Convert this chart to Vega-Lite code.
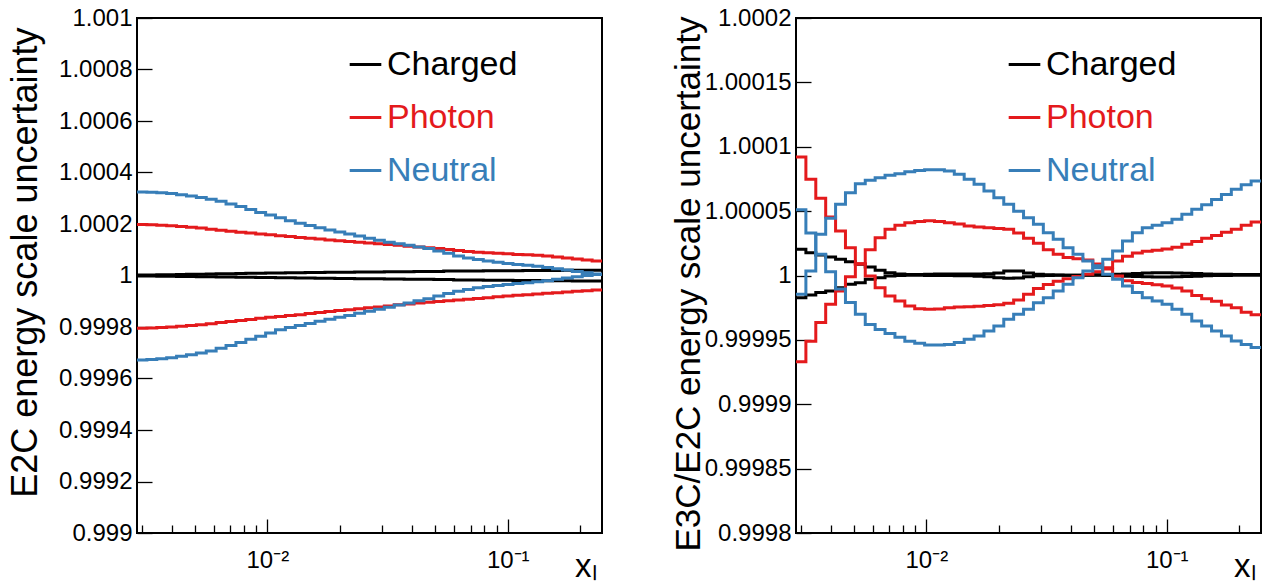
{
"$schema":"https://vega.github.io/schema/vega-lite/v6.json",
"background":"white",
"padding":{"left":6,"top":5,"right":0,"bottom":0},
"bounds":"flush",
"spacing":194,
"config":{
 "font":"Liberation Sans",
 "view":{"stroke":"black","strokeWidth":2},
 "axis":{"labelFont":"Liberation Sans","labelFontSize":24,"labelColor":"black","titleFont":"Liberation Sans","titleFontWeight":"normal","titleColor":"black","grid":false,"domain":false,"tickColor":"black","tickWidth":1.3,"labelOverlap":false}
},
"datasets":{
"L":[
{"s":"Charged","c":"a","x":0.0028708,"y":1.000002},{"s":"Charged","c":"a","x":0.0031561,"y":1.000002},{"s":"Charged","c":"a","x":0.0034698,"y":1.000003},{"s":"Charged","c":"a","x":0.0038146,"y":1.000003},{"s":"Charged","c":"a","x":0.0041937,"y":1.000004},{"s":"Charged","c":"a","x":0.0046105,"y":1.000005},{"s":"Charged","c":"a","x":0.0050687,"y":1.000005},{"s":"Charged","c":"a","x":0.0055724,"y":1.000006},{"s":"Charged","c":"a","x":0.0061262,"y":1.000007},{"s":"Charged","c":"a","x":0.006735,"y":1.000007},{"s":"Charged","c":"a","x":0.0074043,"y":1.000008},{"s":"Charged","c":"a","x":0.0081402,"y":1.000009},{"s":"Charged","c":"a","x":0.0089491,"y":1.000009},{"s":"Charged","c":"a","x":0.0098385,"y":1.00001},{"s":"Charged","c":"a","x":0.010816,"y":1.00001},{"s":"Charged","c":"a","x":0.011891,"y":1.000011},{"s":"Charged","c":"a","x":0.013073,"y":1.000011},{"s":"Charged","c":"a","x":0.014372,"y":1.000012},{"s":"Charged","c":"a","x":0.0158,"y":1.000012},{"s":"Charged","c":"a","x":0.01737,"y":1.000013},{"s":"Charged","c":"a","x":0.019096,"y":1.000013},{"s":"Charged","c":"a","x":0.020994,"y":1.000013},{"s":"Charged","c":"a","x":0.02308,"y":1.000014},{"s":"Charged","c":"a","x":0.025374,"y":1.000014},{"s":"Charged","c":"a","x":0.027896,"y":1.000014},{"s":"Charged","c":"a","x":0.030668,"y":1.000015},{"s":"Charged","c":"a","x":0.033716,"y":1.000015},{"s":"Charged","c":"a","x":0.037067,"y":1.000015},{"s":"Charged","c":"a","x":0.040751,"y":1.000016},{"s":"Charged","c":"a","x":0.044801,"y":1.000016},{"s":"Charged","c":"a","x":0.049262,"y":1.000016},{"s":"Charged","c":"a","x":0.054158,"y":1.000017},{"s":"Charged","c":"a","x":0.05954,"y":1.000017},{"s":"Charged","c":"a","x":0.065457,"y":1.000017},{"s":"Charged","c":"a","x":0.071962,"y":1.000017},{"s":"Charged","c":"a","x":0.079114,"y":1.000018},{"s":"Charged","c":"a","x":0.086977,"y":1.000018},{"s":"Charged","c":"a","x":0.095621,"y":1.000018},{"s":"Charged","c":"a","x":0.10512,"y":1.000018},{"s":"Charged","c":"a","x":0.11557,"y":1.000019},{"s":"Charged","c":"a","x":0.12706,"y":1.000019},{"s":"Charged","c":"a","x":0.13969,"y":1.000019},{"s":"Charged","c":"a","x":0.15357,"y":1.000019},{"s":"Charged","c":"a","x":0.16883,"y":1.00002},{"s":"Charged","c":"a","x":0.18561,"y":1.00002},{"s":"Charged","c":"a","x":0.20406,"y":1.00002},{"s":"Charged","c":"a","x":0.22434,"y":1.00002},{"s":"Charged","c":"a","x":0.2466,"y":1.00002},
{"s":"Charged","c":"b","x":0.0028708,"y":0.999998},{"s":"Charged","c":"b","x":0.0031561,"y":0.999998},{"s":"Charged","c":"b","x":0.0034698,"y":0.999997},{"s":"Charged","c":"b","x":0.0038146,"y":0.999997},{"s":"Charged","c":"b","x":0.0041937,"y":0.999996},{"s":"Charged","c":"b","x":0.0046105,"y":0.999996},{"s":"Charged","c":"b","x":0.0050687,"y":0.999995},{"s":"Charged","c":"b","x":0.0055724,"y":0.999995},{"s":"Charged","c":"b","x":0.0061262,"y":0.999994},{"s":"Charged","c":"b","x":0.006735,"y":0.999994},{"s":"Charged","c":"b","x":0.0074043,"y":0.999993},{"s":"Charged","c":"b","x":0.0081402,"y":0.999993},{"s":"Charged","c":"b","x":0.0089491,"y":0.999992},{"s":"Charged","c":"b","x":0.0098385,"y":0.999992},{"s":"Charged","c":"b","x":0.010816,"y":0.999991},{"s":"Charged","c":"b","x":0.011891,"y":0.999991},{"s":"Charged","c":"b","x":0.013073,"y":0.99999},{"s":"Charged","c":"b","x":0.014372,"y":0.99999},{"s":"Charged","c":"b","x":0.0158,"y":0.999989},{"s":"Charged","c":"b","x":0.01737,"y":0.999989},{"s":"Charged","c":"b","x":0.019096,"y":0.999988},{"s":"Charged","c":"b","x":0.020994,"y":0.999988},{"s":"Charged","c":"b","x":0.02308,"y":0.999987},{"s":"Charged","c":"b","x":0.025374,"y":0.999987},{"s":"Charged","c":"b","x":0.027896,"y":0.999987},{"s":"Charged","c":"b","x":0.030668,"y":0.999986},{"s":"Charged","c":"b","x":0.033716,"y":0.999986},{"s":"Charged","c":"b","x":0.037067,"y":0.999985},{"s":"Charged","c":"b","x":0.040751,"y":0.999985},{"s":"Charged","c":"b","x":0.044801,"y":0.999985},{"s":"Charged","c":"b","x":0.049262,"y":0.999984},{"s":"Charged","c":"b","x":0.054158,"y":0.999984},{"s":"Charged","c":"b","x":0.05954,"y":0.999983},{"s":"Charged","c":"b","x":0.065457,"y":0.999983},{"s":"Charged","c":"b","x":0.071962,"y":0.999983},{"s":"Charged","c":"b","x":0.079114,"y":0.999982},{"s":"Charged","c":"b","x":0.086977,"y":0.999982},{"s":"Charged","c":"b","x":0.095621,"y":0.999982},{"s":"Charged","c":"b","x":0.10512,"y":0.999981},{"s":"Charged","c":"b","x":0.11557,"y":0.999981},{"s":"Charged","c":"b","x":0.12706,"y":0.999981},{"s":"Charged","c":"b","x":0.13969,"y":0.99998},{"s":"Charged","c":"b","x":0.15357,"y":0.99998},{"s":"Charged","c":"b","x":0.16883,"y":0.99998},{"s":"Charged","c":"b","x":0.18561,"y":0.999979},{"s":"Charged","c":"b","x":0.20406,"y":0.999979},{"s":"Charged","c":"b","x":0.22434,"y":0.999979},{"s":"Charged","c":"b","x":0.2466,"y":0.999979},
{"s":"Photon","c":"a","x":0.0028708,"y":1.000198},{"s":"Photon","c":"a","x":0.0031561,"y":1.000197},{"s":"Photon","c":"a","x":0.0034698,"y":1.000195},{"s":"Photon","c":"a","x":0.0038146,"y":1.000193},{"s":"Photon","c":"a","x":0.0041937,"y":1.00019},{"s":"Photon","c":"a","x":0.0046105,"y":1.000187},{"s":"Photon","c":"a","x":0.0050687,"y":1.000184},{"s":"Photon","c":"a","x":0.0055724,"y":1.00018},{"s":"Photon","c":"a","x":0.0061262,"y":1.000176},{"s":"Photon","c":"a","x":0.006735,"y":1.000172},{"s":"Photon","c":"a","x":0.0074043,"y":1.000168},{"s":"Photon","c":"a","x":0.0081402,"y":1.000165},{"s":"Photon","c":"a","x":0.0089491,"y":1.000161},{"s":"Photon","c":"a","x":0.0098385,"y":1.000158},{"s":"Photon","c":"a","x":0.010816,"y":1.000154},{"s":"Photon","c":"a","x":0.011891,"y":1.000151},{"s":"Photon","c":"a","x":0.013073,"y":1.000148},{"s":"Photon","c":"a","x":0.014372,"y":1.000145},{"s":"Photon","c":"a","x":0.0158,"y":1.000142},{"s":"Photon","c":"a","x":0.01737,"y":1.000138},{"s":"Photon","c":"a","x":0.019096,"y":1.000135},{"s":"Photon","c":"a","x":0.020994,"y":1.000132},{"s":"Photon","c":"a","x":0.02308,"y":1.000129},{"s":"Photon","c":"a","x":0.025374,"y":1.000126},{"s":"Photon","c":"a","x":0.027896,"y":1.000123},{"s":"Photon","c":"a","x":0.030668,"y":1.00012},{"s":"Photon","c":"a","x":0.033716,"y":1.000117},{"s":"Photon","c":"a","x":0.037067,"y":1.000114},{"s":"Photon","c":"a","x":0.040751,"y":1.000111},{"s":"Photon","c":"a","x":0.044801,"y":1.000108},{"s":"Photon","c":"a","x":0.049262,"y":1.000105},{"s":"Photon","c":"a","x":0.054158,"y":1.000101},{"s":"Photon","c":"a","x":0.05954,"y":1.000097},{"s":"Photon","c":"a","x":0.065457,"y":1.000093},{"s":"Photon","c":"a","x":0.071962,"y":1.00009},{"s":"Photon","c":"a","x":0.079114,"y":1.000088},{"s":"Photon","c":"a","x":0.086977,"y":1.000086},{"s":"Photon","c":"a","x":0.095621,"y":1.000084},{"s":"Photon","c":"a","x":0.10512,"y":1.000082},{"s":"Photon","c":"a","x":0.11557,"y":1.000081},{"s":"Photon","c":"a","x":0.12706,"y":1.000079},{"s":"Photon","c":"a","x":0.13969,"y":1.000076},{"s":"Photon","c":"a","x":0.15357,"y":1.000072},{"s":"Photon","c":"a","x":0.16883,"y":1.000068},{"s":"Photon","c":"a","x":0.18561,"y":1.000064},{"s":"Photon","c":"a","x":0.20406,"y":1.00006},{"s":"Photon","c":"a","x":0.22434,"y":1.000056},{"s":"Photon","c":"a","x":0.2466,"y":1.000056},
{"s":"Photon","c":"b","x":0.0028708,"y":0.999795},{"s":"Photon","c":"b","x":0.0031561,"y":0.999796},{"s":"Photon","c":"b","x":0.0034698,"y":0.999798},{"s":"Photon","c":"b","x":0.0038146,"y":0.9998},{"s":"Photon","c":"b","x":0.0041937,"y":0.999803},{"s":"Photon","c":"b","x":0.0046105,"y":0.999806},{"s":"Photon","c":"b","x":0.0050687,"y":0.999809},{"s":"Photon","c":"b","x":0.0055724,"y":0.999813},{"s":"Photon","c":"b","x":0.0061262,"y":0.999817},{"s":"Photon","c":"b","x":0.006735,"y":0.999821},{"s":"Photon","c":"b","x":0.0074043,"y":0.999825},{"s":"Photon","c":"b","x":0.0081402,"y":0.999829},{"s":"Photon","c":"b","x":0.0089491,"y":0.999834},{"s":"Photon","c":"b","x":0.0098385,"y":0.999838},{"s":"Photon","c":"b","x":0.010816,"y":0.999841},{"s":"Photon","c":"b","x":0.011891,"y":0.999845},{"s":"Photon","c":"b","x":0.013073,"y":0.999848},{"s":"Photon","c":"b","x":0.014372,"y":0.999852},{"s":"Photon","c":"b","x":0.0158,"y":0.999856},{"s":"Photon","c":"b","x":0.01737,"y":0.99986},{"s":"Photon","c":"b","x":0.019096,"y":0.999864},{"s":"Photon","c":"b","x":0.020994,"y":0.999867},{"s":"Photon","c":"b","x":0.02308,"y":0.999871},{"s":"Photon","c":"b","x":0.025374,"y":0.999875},{"s":"Photon","c":"b","x":0.027896,"y":0.999878},{"s":"Photon","c":"b","x":0.030668,"y":0.999882},{"s":"Photon","c":"b","x":0.033716,"y":0.999886},{"s":"Photon","c":"b","x":0.037067,"y":0.999889},{"s":"Photon","c":"b","x":0.040751,"y":0.999893},{"s":"Photon","c":"b","x":0.044801,"y":0.999896},{"s":"Photon","c":"b","x":0.049262,"y":0.999899},{"s":"Photon","c":"b","x":0.054158,"y":0.999902},{"s":"Photon","c":"b","x":0.05954,"y":0.999905},{"s":"Photon","c":"b","x":0.065457,"y":0.999908},{"s":"Photon","c":"b","x":0.071962,"y":0.999911},{"s":"Photon","c":"b","x":0.079114,"y":0.999914},{"s":"Photon","c":"b","x":0.086977,"y":0.999917},{"s":"Photon","c":"b","x":0.095621,"y":0.99992},{"s":"Photon","c":"b","x":0.10512,"y":0.999923},{"s":"Photon","c":"b","x":0.11557,"y":0.999925},{"s":"Photon","c":"b","x":0.12706,"y":0.999928},{"s":"Photon","c":"b","x":0.13969,"y":0.999931},{"s":"Photon","c":"b","x":0.15357,"y":0.999933},{"s":"Photon","c":"b","x":0.16883,"y":0.999936},{"s":"Photon","c":"b","x":0.18561,"y":0.999939},{"s":"Photon","c":"b","x":0.20406,"y":0.999941},{"s":"Photon","c":"b","x":0.22434,"y":0.999944},{"s":"Photon","c":"b","x":0.2466,"y":0.999944},
{"s":"Neutral","c":"a","x":0.0028708,"y":1.000324},{"s":"Neutral","c":"a","x":0.0031561,"y":1.000323},{"s":"Neutral","c":"a","x":0.0034698,"y":1.000321},{"s":"Neutral","c":"a","x":0.0038146,"y":1.000318},{"s":"Neutral","c":"a","x":0.0041937,"y":1.000314},{"s":"Neutral","c":"a","x":0.0046105,"y":1.000309},{"s":"Neutral","c":"a","x":0.0050687,"y":1.000303},{"s":"Neutral","c":"a","x":0.0055724,"y":1.000296},{"s":"Neutral","c":"a","x":0.0061262,"y":1.000288},{"s":"Neutral","c":"a","x":0.006735,"y":1.000278},{"s":"Neutral","c":"a","x":0.0074043,"y":1.000268},{"s":"Neutral","c":"a","x":0.0081402,"y":1.000256},{"s":"Neutral","c":"a","x":0.0089491,"y":1.000245},{"s":"Neutral","c":"a","x":0.0098385,"y":1.000235},{"s":"Neutral","c":"a","x":0.010816,"y":1.000224},{"s":"Neutral","c":"a","x":0.011891,"y":1.000213},{"s":"Neutral","c":"a","x":0.013073,"y":1.000203},{"s":"Neutral","c":"a","x":0.014372,"y":1.000194},{"s":"Neutral","c":"a","x":0.0158,"y":1.000185},{"s":"Neutral","c":"a","x":0.01737,"y":1.000177},{"s":"Neutral","c":"a","x":0.019096,"y":1.000169},{"s":"Neutral","c":"a","x":0.020994,"y":1.000161},{"s":"Neutral","c":"a","x":0.02308,"y":1.000153},{"s":"Neutral","c":"a","x":0.025374,"y":1.000145},{"s":"Neutral","c":"a","x":0.027896,"y":1.000137},{"s":"Neutral","c":"a","x":0.030668,"y":1.000129},{"s":"Neutral","c":"a","x":0.033716,"y":1.000123},{"s":"Neutral","c":"a","x":0.037067,"y":1.000117},{"s":"Neutral","c":"a","x":0.040751,"y":1.000111},{"s":"Neutral","c":"a","x":0.044801,"y":1.000105},{"s":"Neutral","c":"a","x":0.049262,"y":1.000095},{"s":"Neutral","c":"a","x":0.054158,"y":1.000086},{"s":"Neutral","c":"a","x":0.05954,"y":1.000076},{"s":"Neutral","c":"a","x":0.065457,"y":1.000068},{"s":"Neutral","c":"a","x":0.071962,"y":1.000062},{"s":"Neutral","c":"a","x":0.079114,"y":1.000056},{"s":"Neutral","c":"a","x":0.086977,"y":1.000051},{"s":"Neutral","c":"a","x":0.095621,"y":1.000047},{"s":"Neutral","c":"a","x":0.10512,"y":1.000043},{"s":"Neutral","c":"a","x":0.11557,"y":1.00004},{"s":"Neutral","c":"a","x":0.12706,"y":1.000036},{"s":"Neutral","c":"a","x":0.13969,"y":1.000031},{"s":"Neutral","c":"a","x":0.15357,"y":1.000026},{"s":"Neutral","c":"a","x":0.16883,"y":1.000021},{"s":"Neutral","c":"a","x":0.18561,"y":1.000016},{"s":"Neutral","c":"a","x":0.20406,"y":1.000011},{"s":"Neutral","c":"a","x":0.22434,"y":1.000006},{"s":"Neutral","c":"a","x":0.2466,"y":1.000006},
{"s":"Neutral","c":"b","x":0.0028708,"y":0.999672},{"s":"Neutral","c":"b","x":0.0031561,"y":0.999674},{"s":"Neutral","c":"b","x":0.0034698,"y":0.999677},{"s":"Neutral","c":"b","x":0.0038146,"y":0.999681},{"s":"Neutral","c":"b","x":0.0041937,"y":0.999686},{"s":"Neutral","c":"b","x":0.0046105,"y":0.999692},{"s":"Neutral","c":"b","x":0.0050687,"y":0.999699},{"s":"Neutral","c":"b","x":0.0055724,"y":0.999707},{"s":"Neutral","c":"b","x":0.0061262,"y":0.999717},{"s":"Neutral","c":"b","x":0.006735,"y":0.999728},{"s":"Neutral","c":"b","x":0.0074043,"y":0.99974},{"s":"Neutral","c":"b","x":0.0081402,"y":0.999752},{"s":"Neutral","c":"b","x":0.0089491,"y":0.999764},{"s":"Neutral","c":"b","x":0.0098385,"y":0.999777},{"s":"Neutral","c":"b","x":0.010816,"y":0.999789},{"s":"Neutral","c":"b","x":0.011891,"y":0.999798},{"s":"Neutral","c":"b","x":0.013073,"y":0.999806},{"s":"Neutral","c":"b","x":0.014372,"y":0.999814},{"s":"Neutral","c":"b","x":0.0158,"y":0.999822},{"s":"Neutral","c":"b","x":0.01737,"y":0.99983},{"s":"Neutral","c":"b","x":0.019096,"y":0.999838},{"s":"Neutral","c":"b","x":0.020994,"y":0.999845},{"s":"Neutral","c":"b","x":0.02308,"y":0.999853},{"s":"Neutral","c":"b","x":0.025374,"y":0.999861},{"s":"Neutral","c":"b","x":0.027896,"y":0.999869},{"s":"Neutral","c":"b","x":0.030668,"y":0.999877},{"s":"Neutral","c":"b","x":0.033716,"y":0.999885},{"s":"Neutral","c":"b","x":0.037067,"y":0.999893},{"s":"Neutral","c":"b","x":0.040751,"y":0.999902},{"s":"Neutral","c":"b","x":0.044801,"y":0.99991},{"s":"Neutral","c":"b","x":0.049262,"y":0.99992},{"s":"Neutral","c":"b","x":0.054158,"y":0.99993},{"s":"Neutral","c":"b","x":0.05954,"y":0.999939},{"s":"Neutral","c":"b","x":0.065457,"y":0.999946},{"s":"Neutral","c":"b","x":0.071962,"y":0.999952},{"s":"Neutral","c":"b","x":0.079114,"y":0.999957},{"s":"Neutral","c":"b","x":0.086977,"y":0.999961},{"s":"Neutral","c":"b","x":0.095621,"y":0.999965},{"s":"Neutral","c":"b","x":0.10512,"y":0.999969},{"s":"Neutral","c":"b","x":0.11557,"y":0.999972},{"s":"Neutral","c":"b","x":0.12706,"y":0.999976},{"s":"Neutral","c":"b","x":0.13969,"y":0.99998},{"s":"Neutral","c":"b","x":0.15357,"y":0.999985},{"s":"Neutral","c":"b","x":0.16883,"y":0.99999},{"s":"Neutral","c":"b","x":0.18561,"y":0.999995},{"s":"Neutral","c":"b","x":0.20406,"y":1},{"s":"Neutral","c":"b","x":0.22434,"y":1.000004},{"s":"Neutral","c":"b","x":0.2466,"y":1.000004}
],
"R":[
{"s":"Charged","c":"a","x":0.0028708,"y":1.0000203},{"s":"Charged","c":"a","x":0.0031561,"y":1.0000177},{"s":"Charged","c":"a","x":0.0034698,"y":1.000016},{"s":"Charged","c":"a","x":0.0038146,"y":1.0000144},{"s":"Charged","c":"a","x":0.0041937,"y":1.0000126},{"s":"Charged","c":"a","x":0.0046105,"y":1.0000107},{"s":"Charged","c":"a","x":0.0050687,"y":1.0000087},{"s":"Charged","c":"a","x":0.0055724,"y":1.0000066},{"s":"Charged","c":"a","x":0.0061262,"y":1.000004},{"s":"Charged","c":"a","x":0.006735,"y":1.0000022},{"s":"Charged","c":"a","x":0.0074043,"y":1.0000012},{"s":"Charged","c":"a","x":0.0081402,"y":1.0000008},{"s":"Charged","c":"a","x":0.0089491,"y":1.0000008},{"s":"Charged","c":"a","x":0.0098385,"y":1.000001},{"s":"Charged","c":"a","x":0.010816,"y":1.0000012},{"s":"Charged","c":"a","x":0.011891,"y":1.0000012},{"s":"Charged","c":"a","x":0.013073,"y":1.0000012},{"s":"Charged","c":"a","x":0.014372,"y":1.0000012},{"s":"Charged","c":"a","x":0.0158,"y":1.0000012},{"s":"Charged","c":"a","x":0.01737,"y":1.0000014},{"s":"Charged","c":"a","x":0.019096,"y":1.000002},{"s":"Charged","c":"a","x":0.020994,"y":1.0000035},{"s":"Charged","c":"a","x":0.02308,"y":1.0000035},{"s":"Charged","c":"a","x":0.025374,"y":1.000002},{"s":"Charged","c":"a","x":0.027896,"y":1.000001},{"s":"Charged","c":"a","x":0.030668,"y":1.0000006},{"s":"Charged","c":"a","x":0.033716,"y":1.0000004},{"s":"Charged","c":"a","x":0.037067,"y":1.0000002},{"s":"Charged","c":"a","x":0.040751,"y":1.0000002},{"s":"Charged","c":"a","x":0.044801,"y":1.0000003},{"s":"Charged","c":"a","x":0.049262,"y":1.0000005},{"s":"Charged","c":"a","x":0.054158,"y":1.0000008},{"s":"Charged","c":"a","x":0.05954,"y":1.000001},{"s":"Charged","c":"a","x":0.065457,"y":1.0000012},{"s":"Charged","c":"a","x":0.071962,"y":1.0000015},{"s":"Charged","c":"a","x":0.079114,"y":1.000002},{"s":"Charged","c":"a","x":0.086977,"y":1.0000022},{"s":"Charged","c":"a","x":0.095621,"y":1.0000022},{"s":"Charged","c":"a","x":0.10512,"y":1.000002},{"s":"Charged","c":"a","x":0.11557,"y":1.0000018},{"s":"Charged","c":"a","x":0.12706,"y":1.0000015},{"s":"Charged","c":"a","x":0.13969,"y":1.0000012},{"s":"Charged","c":"a","x":0.15357,"y":1.000001},{"s":"Charged","c":"a","x":0.16883,"y":1.000001},{"s":"Charged","c":"a","x":0.18561,"y":1.0000008},{"s":"Charged","c":"a","x":0.20406,"y":1.0000008},{"s":"Charged","c":"a","x":0.22434,"y":1.0000008},{"s":"Charged","c":"a","x":0.2466,"y":1.0000008},
{"s":"Charged","c":"b","x":0.0028708,"y":0.9999828},{"s":"Charged","c":"b","x":0.0031561,"y":0.9999849},{"s":"Charged","c":"b","x":0.0034698,"y":0.9999867},{"s":"Charged","c":"b","x":0.0038146,"y":0.999988},{"s":"Charged","c":"b","x":0.0041937,"y":0.9999905},{"s":"Charged","c":"b","x":0.0046105,"y":0.9999932},{"s":"Charged","c":"b","x":0.0050687,"y":0.9999944},{"s":"Charged","c":"b","x":0.0055724,"y":0.999997},{"s":"Charged","c":"b","x":0.0061262,"y":0.9999983},{"s":"Charged","c":"b","x":0.006735,"y":0.9999996},{"s":"Charged","c":"b","x":0.0074043,"y":1},{"s":"Charged","c":"b","x":0.0081402,"y":1.0000002},{"s":"Charged","c":"b","x":0.0089491,"y":1.0000002},{"s":"Charged","c":"b","x":0.0098385,"y":1},{"s":"Charged","c":"b","x":0.010816,"y":1},{"s":"Charged","c":"b","x":0.011891,"y":1},{"s":"Charged","c":"b","x":0.013073,"y":0.9999998},{"s":"Charged","c":"b","x":0.014372,"y":0.9999998},{"s":"Charged","c":"b","x":0.0158,"y":0.9999995},{"s":"Charged","c":"b","x":0.01737,"y":0.999999},{"s":"Charged","c":"b","x":0.019096,"y":0.9999982},{"s":"Charged","c":"b","x":0.020994,"y":0.9999978},{"s":"Charged","c":"b","x":0.02308,"y":0.999998},{"s":"Charged","c":"b","x":0.025374,"y":0.999999},{"s":"Charged","c":"b","x":0.027896,"y":0.9999998},{"s":"Charged","c":"b","x":0.030668,"y":1},{"s":"Charged","c":"b","x":0.033716,"y":1.0000002},{"s":"Charged","c":"b","x":0.037067,"y":1.0000002},{"s":"Charged","c":"b","x":0.040751,"y":1.0000002},{"s":"Charged","c":"b","x":0.044801,"y":1.0000002},{"s":"Charged","c":"b","x":0.049262,"y":1.0000002},{"s":"Charged","c":"b","x":0.054158,"y":1},{"s":"Charged","c":"b","x":0.05954,"y":0.9999998},{"s":"Charged","c":"b","x":0.065457,"y":0.9999995},{"s":"Charged","c":"b","x":0.071962,"y":0.9999992},{"s":"Charged","c":"b","x":0.079114,"y":0.999999},{"s":"Charged","c":"b","x":0.086977,"y":0.9999988},{"s":"Charged","c":"b","x":0.095621,"y":0.9999988},{"s":"Charged","c":"b","x":0.10512,"y":0.999999},{"s":"Charged","c":"b","x":0.11557,"y":0.9999992},{"s":"Charged","c":"b","x":0.12706,"y":0.9999995},{"s":"Charged","c":"b","x":0.13969,"y":0.9999998},{"s":"Charged","c":"b","x":0.15357,"y":1},{"s":"Charged","c":"b","x":0.16883,"y":1},{"s":"Charged","c":"b","x":0.18561,"y":1.0000002},{"s":"Charged","c":"b","x":0.20406,"y":1.0000002},{"s":"Charged","c":"b","x":0.22434,"y":1.0000002},{"s":"Charged","c":"b","x":0.2466,"y":1.0000002},
{"s":"Photon","c":"a","x":0.0028708,"y":1.000092},{"s":"Photon","c":"a","x":0.0031561,"y":1.0000747},{"s":"Photon","c":"a","x":0.0034698,"y":1.00006},{"s":"Photon","c":"a","x":0.0038146,"y":1.0000454},{"s":"Photon","c":"a","x":0.0041937,"y":1.0000346},{"s":"Photon","c":"a","x":0.0046105,"y":1.0000216},{"s":"Photon","c":"a","x":0.0050687,"y":1.0000092},{"s":"Photon","c":"a","x":0.0055724,"y":0.9999996},{"s":"Photon","c":"a","x":0.0061262,"y":0.9999905},{"s":"Photon","c":"a","x":0.006735,"y":0.9999841},{"s":"Photon","c":"a","x":0.0074043,"y":0.9999802},{"s":"Photon","c":"a","x":0.0081402,"y":0.9999763},{"s":"Photon","c":"a","x":0.0089491,"y":0.9999742},{"s":"Photon","c":"a","x":0.0098385,"y":0.9999737},{"s":"Photon","c":"a","x":0.010816,"y":0.999974},{"s":"Photon","c":"a","x":0.011891,"y":0.999975},{"s":"Photon","c":"a","x":0.013073,"y":0.9999755},{"s":"Photon","c":"a","x":0.014372,"y":0.9999758},{"s":"Photon","c":"a","x":0.0158,"y":0.9999762},{"s":"Photon","c":"a","x":0.01737,"y":0.9999767},{"s":"Photon","c":"a","x":0.019096,"y":0.9999772},{"s":"Photon","c":"a","x":0.020994,"y":0.9999785},{"s":"Photon","c":"a","x":0.02308,"y":0.999981},{"s":"Photon","c":"a","x":0.025374,"y":0.9999855},{"s":"Photon","c":"a","x":0.027896,"y":0.99999},{"s":"Photon","c":"a","x":0.030668,"y":0.999993},{"s":"Photon","c":"a","x":0.033716,"y":0.9999955},{"s":"Photon","c":"a","x":0.037067,"y":0.9999975},{"s":"Photon","c":"a","x":0.040751,"y":0.9999992},{"s":"Photon","c":"a","x":0.044801,"y":1.000001},{"s":"Photon","c":"a","x":0.049262,"y":1.000003},{"s":"Photon","c":"a","x":0.054158,"y":1.000006},{"s":"Photon","c":"a","x":0.05954,"y":1.0000113},{"s":"Photon","c":"a","x":0.065457,"y":1.000015},{"s":"Photon","c":"a","x":0.071962,"y":1.0000175},{"s":"Photon","c":"a","x":0.079114,"y":1.0000188},{"s":"Photon","c":"a","x":0.086977,"y":1.0000196},{"s":"Photon","c":"a","x":0.095621,"y":1.0000205},{"s":"Photon","c":"a","x":0.10512,"y":1.000022},{"s":"Photon","c":"a","x":0.11557,"y":1.0000242},{"s":"Photon","c":"a","x":0.12706,"y":1.0000265},{"s":"Photon","c":"a","x":0.13969,"y":1.0000289},{"s":"Photon","c":"a","x":0.15357,"y":1.000031},{"s":"Photon","c":"a","x":0.16883,"y":1.0000335},{"s":"Photon","c":"a","x":0.18561,"y":1.0000359},{"s":"Photon","c":"a","x":0.20406,"y":1.000039},{"s":"Photon","c":"a","x":0.22434,"y":1.0000416},{"s":"Photon","c":"a","x":0.2466,"y":1.0000416},
{"s":"Photon","c":"b","x":0.0028708,"y":0.999933},{"s":"Photon","c":"b","x":0.0031561,"y":0.999949},{"s":"Photon","c":"b","x":0.0034698,"y":0.9999634},{"s":"Photon","c":"b","x":0.0038146,"y":0.9999776},{"s":"Photon","c":"b","x":0.0041937,"y":0.999988},{"s":"Photon","c":"b","x":0.0046105,"y":0.999999},{"s":"Photon","c":"b","x":0.0050687,"y":1.000009},{"s":"Photon","c":"b","x":0.0055724,"y":1.00002},{"s":"Photon","c":"b","x":0.0061262,"y":1.0000294},{"s":"Photon","c":"b","x":0.006735,"y":1.0000359},{"s":"Photon","c":"b","x":0.0074043,"y":1.000039},{"s":"Photon","c":"b","x":0.0081402,"y":1.000041},{"s":"Photon","c":"b","x":0.0089491,"y":1.000042},{"s":"Photon","c":"b","x":0.0098385,"y":1.0000425},{"s":"Photon","c":"b","x":0.010816,"y":1.000042},{"s":"Photon","c":"b","x":0.011891,"y":1.000041},{"s":"Photon","c":"b","x":0.013073,"y":1.00004},{"s":"Photon","c":"b","x":0.014372,"y":1.0000385},{"s":"Photon","c":"b","x":0.0158,"y":1.0000377},{"s":"Photon","c":"b","x":0.01737,"y":1.000037},{"s":"Photon","c":"b","x":0.019096,"y":1.0000365},{"s":"Photon","c":"b","x":0.020994,"y":1.000036},{"s":"Photon","c":"b","x":0.02308,"y":1.000033},{"s":"Photon","c":"b","x":0.025374,"y":1.000029},{"s":"Photon","c":"b","x":0.027896,"y":1.000025},{"s":"Photon","c":"b","x":0.030668,"y":1.00002},{"s":"Photon","c":"b","x":0.033716,"y":1.0000165},{"s":"Photon","c":"b","x":0.037067,"y":1.000014},{"s":"Photon","c":"b","x":0.040751,"y":1.000013},{"s":"Photon","c":"b","x":0.044801,"y":1.000012},{"s":"Photon","c":"b","x":0.049262,"y":1.000009},{"s":"Photon","c":"b","x":0.054158,"y":1.000005},{"s":"Photon","c":"b","x":0.05954,"y":0.9999996},{"s":"Photon","c":"b","x":0.065457,"y":0.999996},{"s":"Photon","c":"b","x":0.071962,"y":0.9999945},{"s":"Photon","c":"b","x":0.079114,"y":0.9999937},{"s":"Photon","c":"b","x":0.086977,"y":0.9999928},{"s":"Photon","c":"b","x":0.095621,"y":0.9999918},{"s":"Photon","c":"b","x":0.10512,"y":0.9999902},{"s":"Photon","c":"b","x":0.11557,"y":0.999988},{"s":"Photon","c":"b","x":0.12706,"y":0.9999845},{"s":"Photon","c":"b","x":0.13969,"y":0.999982},{"s":"Photon","c":"b","x":0.15357,"y":0.99998},{"s":"Photon","c":"b","x":0.16883,"y":0.999977},{"s":"Photon","c":"b","x":0.18561,"y":0.999975},{"s":"Photon","c":"b","x":0.20406,"y":0.9999715},{"s":"Photon","c":"b","x":0.22434,"y":0.9999695},{"s":"Photon","c":"b","x":0.2466,"y":0.9999695},
{"s":"Neutral","c":"a","x":0.0028708,"y":1.000051},{"s":"Neutral","c":"a","x":0.0031561,"y":1.000033},{"s":"Neutral","c":"a","x":0.0034698,"y":1.0000165},{"s":"Neutral","c":"a","x":0.0038146,"y":1.000003},{"s":"Neutral","c":"a","x":0.0041937,"y":0.9999895},{"s":"Neutral","c":"a","x":0.0046105,"y":0.999979},{"s":"Neutral","c":"a","x":0.0050687,"y":0.99997},{"s":"Neutral","c":"a","x":0.0055724,"y":0.999962},{"s":"Neutral","c":"a","x":0.0061262,"y":0.999958},{"s":"Neutral","c":"a","x":0.006735,"y":0.999955},{"s":"Neutral","c":"a","x":0.0074043,"y":0.999952},{"s":"Neutral","c":"a","x":0.0081402,"y":0.999949},{"s":"Neutral","c":"a","x":0.0089491,"y":0.9999473},{"s":"Neutral","c":"a","x":0.0098385,"y":0.999946},{"s":"Neutral","c":"a","x":0.010816,"y":0.999946},{"s":"Neutral","c":"a","x":0.011891,"y":0.9999465},{"s":"Neutral","c":"a","x":0.013073,"y":0.999948},{"s":"Neutral","c":"a","x":0.014372,"y":0.9999504},{"s":"Neutral","c":"a","x":0.0158,"y":0.999953},{"s":"Neutral","c":"a","x":0.01737,"y":0.9999569},{"s":"Neutral","c":"a","x":0.019096,"y":0.9999608},{"s":"Neutral","c":"a","x":0.020994,"y":0.999966},{"s":"Neutral","c":"a","x":0.02308,"y":0.9999699},{"s":"Neutral","c":"a","x":0.025374,"y":0.9999737},{"s":"Neutral","c":"a","x":0.027896,"y":0.9999789},{"s":"Neutral","c":"a","x":0.030668,"y":0.9999828},{"s":"Neutral","c":"a","x":0.033716,"y":0.999988},{"s":"Neutral","c":"a","x":0.037067,"y":0.9999932},{"s":"Neutral","c":"a","x":0.040751,"y":0.9999983},{"s":"Neutral","c":"a","x":0.044801,"y":1.0000035},{"s":"Neutral","c":"a","x":0.049262,"y":1.0000075},{"s":"Neutral","c":"a","x":0.054158,"y":1.0000126},{"s":"Neutral","c":"a","x":0.05954,"y":1.000019},{"s":"Neutral","c":"a","x":0.065457,"y":1.0000268},{"s":"Neutral","c":"a","x":0.071962,"y":1.0000332},{"s":"Neutral","c":"a","x":0.079114,"y":1.0000371},{"s":"Neutral","c":"a","x":0.086977,"y":1.000039},{"s":"Neutral","c":"a","x":0.095621,"y":1.000041},{"s":"Neutral","c":"a","x":0.10512,"y":1.0000436},{"s":"Neutral","c":"a","x":0.11557,"y":1.0000475},{"s":"Neutral","c":"a","x":0.12706,"y":1.0000514},{"s":"Neutral","c":"a","x":0.13969,"y":1.000055},{"s":"Neutral","c":"a","x":0.15357,"y":1.000059},{"s":"Neutral","c":"a","x":0.16883,"y":1.000063},{"s":"Neutral","c":"a","x":0.18561,"y":1.000067},{"s":"Neutral","c":"a","x":0.20406,"y":1.0000705},{"s":"Neutral","c":"a","x":0.22434,"y":1.0000734},{"s":"Neutral","c":"a","x":0.2466,"y":1.0000734},
{"s":"Neutral","c":"b","x":0.0028708,"y":0.9999854},{"s":"Neutral","c":"b","x":0.0031561,"y":1.0000035},{"s":"Neutral","c":"b","x":0.0034698,"y":1.000032},{"s":"Neutral","c":"b","x":0.0038146,"y":1.0000444},{"s":"Neutral","c":"b","x":0.0041937,"y":1.0000553},{"s":"Neutral","c":"b","x":0.0046105,"y":1.0000643},{"s":"Neutral","c":"b","x":0.0050687,"y":1.0000713},{"s":"Neutral","c":"b","x":0.0055724,"y":1.0000739},{"s":"Neutral","c":"b","x":0.0061262,"y":1.000076},{"s":"Neutral","c":"b","x":0.006735,"y":1.0000778},{"s":"Neutral","c":"b","x":0.0074043,"y":1.000079},{"s":"Neutral","c":"b","x":0.0081402,"y":1.0000806},{"s":"Neutral","c":"b","x":0.0089491,"y":1.0000815},{"s":"Neutral","c":"b","x":0.0098385,"y":1.0000822},{"s":"Neutral","c":"b","x":0.010816,"y":1.0000822},{"s":"Neutral","c":"b","x":0.011891,"y":1.0000812},{"s":"Neutral","c":"b","x":0.013073,"y":1.0000786},{"s":"Neutral","c":"b","x":0.014372,"y":1.0000747},{"s":"Neutral","c":"b","x":0.0158,"y":1.0000708},{"s":"Neutral","c":"b","x":0.01737,"y":1.0000656},{"s":"Neutral","c":"b","x":0.019096,"y":1.0000604},{"s":"Neutral","c":"b","x":0.020994,"y":1.0000553},{"s":"Neutral","c":"b","x":0.02308,"y":1.00005},{"s":"Neutral","c":"b","x":0.025374,"y":1.0000449},{"s":"Neutral","c":"b","x":0.027896,"y":1.0000398},{"s":"Neutral","c":"b","x":0.030668,"y":1.0000332},{"s":"Neutral","c":"b","x":0.033716,"y":1.0000281},{"s":"Neutral","c":"b","x":0.037067,"y":1.0000216},{"s":"Neutral","c":"b","x":0.040751,"y":1.0000165},{"s":"Neutral","c":"b","x":0.044801,"y":1.0000113},{"s":"Neutral","c":"b","x":0.049262,"y":1.000006},{"s":"Neutral","c":"b","x":0.054158,"y":1.000001},{"s":"Neutral","c":"b","x":0.05954,"y":0.999997},{"s":"Neutral","c":"b","x":0.065457,"y":0.9999918},{"s":"Neutral","c":"b","x":0.071962,"y":0.9999867},{"s":"Neutral","c":"b","x":0.079114,"y":0.9999828},{"s":"Neutral","c":"b","x":0.086977,"y":0.9999802},{"s":"Neutral","c":"b","x":0.095621,"y":0.9999776},{"s":"Neutral","c":"b","x":0.10512,"y":0.9999737},{"s":"Neutral","c":"b","x":0.11557,"y":0.9999699},{"s":"Neutral","c":"b","x":0.12706,"y":0.9999647},{"s":"Neutral","c":"b","x":0.13969,"y":0.9999608},{"s":"Neutral","c":"b","x":0.15357,"y":0.9999569},{"s":"Neutral","c":"b","x":0.16883,"y":0.999953},{"s":"Neutral","c":"b","x":0.18561,"y":0.9999491},{"s":"Neutral","c":"b","x":0.20406,"y":0.9999465},{"s":"Neutral","c":"b","x":0.22434,"y":0.999944},{"s":"Neutral","c":"b","x":0.2466,"y":0.999944}
]
},
"hconcat":[
{
 "width":465,"height":515,
 "data":{"name":"L"},
 "mark":{"type":"line","interpolate":"step-after","strokeWidth":3,"clip":true},
 "encoding":{
  "x":{"field":"x","type":"quantitative","scale":{"type":"log","domain":[0.0028708,0.2466],"nice":false},
   "axis":{"values":[0.003,0.004,0.005,0.006,0.007,0.008,0.009,0.01,0.02,0.03,0.04,0.05,0.06,0.07,0.08,0.09,0.1,0.2],
    "labelExpr":"datum.value == 0.01 ? '10⁻²' : datum.value == 0.1 ? '10⁻¹' : ''",
    "tickSize":{"condition":{"test":"datum.value == 0.01 || datum.value == 0.1","value":-14},"value":-8},
    "labelPadding":29,"labelFlush":false,
    "title":"xₗ","titleFontSize":33,"titleX":460,"titleY":43,"titleAlign":"right","titleBaseline":"alphabetic","titleAngle":0}},
  "y":{"field":"y","type":"quantitative","scale":{"domain":[0.999,1.001],"nice":false,"zero":false},
   "axis":{"values":[0.999,0.9992,0.9994,0.9996,0.9998,1,1.0002,1.0004,1.0006,1.0008,1.001],
    "labelExpr":"format(datum.value, '.4~f')","tickSize":-15,"labelPadding":20,
    "title":"E2C energy scale uncertainty","titleFontSize":36,"titleX":-112,"titleY":9,"titleAlign":"right","titleAngle":270,"titleBaseline":"middle"}},
  "color":{"field":"s","type":"nominal","scale":{"domain":["Charged","Photon","Neutral"],"range":["#000000","#e41a1c","#377eb8"]},
   "legend":{"title":null,"orient":"none","legendX":211,"legendY":29,"symbolType":"stroke","symbolSize":1000,"symbolStrokeWidth":3,"labelFontSize":34,"labelFont":"Liberation Sans","labelOffset":4,"rowPadding":18,"padding":0,"labelLimit":500,
    "encode":{"labels":{"update":{"fill":{"signal":"datum.value === 'Photon' ? '#e41a1c' : datum.value === 'Neutral' ? '#377eb8' : '#000000'"}}}}}},
  "detail":{"field":"c","type":"nominal"}
 }
},
{
 "width":465,"height":515,
 "data":{"name":"R"},
 "mark":{"type":"line","interpolate":"step-after","strokeWidth":3,"clip":true},
 "encoding":{
  "x":{"field":"x","type":"quantitative","scale":{"type":"log","domain":[0.0028708,0.2466],"nice":false},
   "axis":{"values":[0.003,0.004,0.005,0.006,0.007,0.008,0.009,0.01,0.02,0.03,0.04,0.05,0.06,0.07,0.08,0.09,0.1,0.2],
    "labelExpr":"datum.value == 0.01 ? '10⁻²' : datum.value == 0.1 ? '10⁻¹' : ''",
    "tickSize":{"condition":{"test":"datum.value == 0.01 || datum.value == 0.1","value":-14},"value":-8},
    "labelPadding":29,"labelFlush":false,
    "title":"xₗ","titleFontSize":33,"titleX":460,"titleY":43,"titleAlign":"right","titleBaseline":"alphabetic","titleAngle":0}},
  "y":{"field":"y","type":"quantitative","scale":{"domain":[0.9998,1.0002],"nice":false,"zero":false},
   "axis":{"values":[0.9998,0.99985,0.9999,0.99995,1,1.00005,1.0001,1.00015,1.0002],
    "labelExpr":"format(datum.value, '.5~f')","tickSize":-15,"labelPadding":20,
    "title":"E3C/E2C energy scale uncertainty","titleFontSize":35,"titleX":-108,"titleY":-2,"titleAlign":"right","titleAngle":270,"titleBaseline":"middle"}},
  "color":{"field":"s","type":"nominal","scale":{"domain":["Charged","Photon","Neutral"],"range":["#000000","#e41a1c","#377eb8"]},
   "legend":{"title":null,"orient":"none","legendX":211,"legendY":29,"symbolType":"stroke","symbolSize":1000,"symbolStrokeWidth":3,"labelFontSize":34,"labelFont":"Liberation Sans","labelOffset":4,"rowPadding":18,"padding":0,"labelLimit":500,
    "encode":{"labels":{"update":{"fill":{"signal":"datum.value === 'Photon' ? '#e41a1c' : datum.value === 'Neutral' ? '#377eb8' : '#000000'"}}}}}},
  "detail":{"field":"c","type":"nominal"}
 }
}
],
"resolve":{"scale":{"x":"independent","y":"independent","color":"independent"},"legend":{"color":"independent"}}
}
